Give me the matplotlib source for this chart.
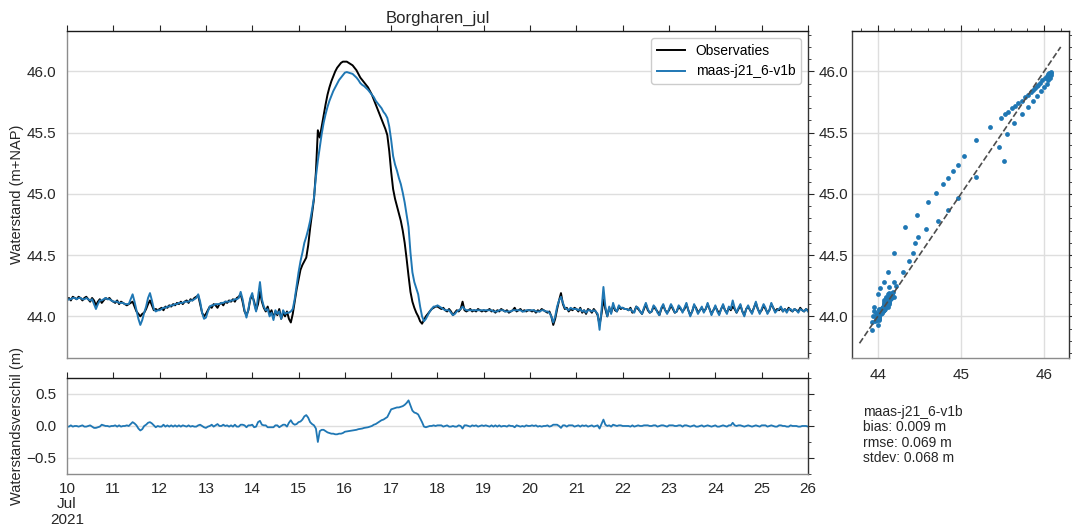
import matplotlib
matplotlib.use('Agg')
import matplotlib.pyplot as plt
import matplotlib.dates as mdates
from matplotlib.ticker import MultipleLocator, FuncFormatter
import numpy as np
import pandas as pd

# hourly water levels (m+NAP), Borgharen, 10-26 July 2021
obs_jul10 = [44.14, 44.15, 44.13, 44.16, 44.15, 44.14, 44.16, 44.15, 44.13, 44.15, 44.16, 44.14,
             44.12, 44.15, 44.13, 44.09, 44.12, 44.14, 44.11, 44.13, 44.15, 44.14, 44.15, 44.13]
obs_jul11 = [44.12, 44.11, 44.13, 44.10, 44.12, 44.11, 44.10, 44.09, 44.10, 44.11, 44.12, 44.08,
             44.04, 44.02, 44.00, 44.02, 44.03, 44.06, 44.10, 44.13, 44.09, 44.05, 44.06, 44.05]
obs_jul12 = [44.06, 44.07, 44.05, 44.08, 44.07, 44.09, 44.08, 44.10, 44.09, 44.11, 44.10, 44.12,
             44.10, 44.12, 44.13, 44.11, 44.14, 44.13, 44.15, 44.16, 44.17, 44.10, 44.03, 44.00]
obs_jul13 = [44.02, 44.05, 44.08, 44.07, 44.10, 44.09, 44.07, 44.10, 44.11, 44.09, 44.12, 44.11,
             44.13, 44.12, 44.14, 44.12, 44.15, 44.16, 44.18, 44.12, 44.04, 44.01, 44.05, 44.14]
obs_jul14 = [44.17, 44.12, 44.05, 44.10, 44.20, 44.12, 44.07, 44.04, 44.08, 44.02, 44.05, 43.99,
             44.04, 44.01, 44.06, 43.98, 44.03, 44.00, 44.04, 43.98, 43.95, 44.02, 44.12, 44.22]
obs_jul15 = [44.30, 44.38, 44.42, 44.45, 44.48, 44.58, 44.72, 44.84, 44.96, 45.18, 45.52, 45.46,
             45.55, 45.64, 45.73, 45.81, 45.87, 45.92, 45.96, 46.00, 46.03, 46.05, 46.07, 46.08]
obs_jul16 = [46.08, 46.08, 46.07, 46.06, 46.05, 46.03, 46.01, 45.98, 45.95, 45.93, 45.91, 45.89,
             45.87, 45.84, 45.81, 45.77, 45.73, 45.69, 45.65, 45.61, 45.57, 45.53, 45.48, 45.35]
obs_jul17 = [45.18, 45.04, 44.96, 44.90, 44.84, 44.78, 44.70, 44.60, 44.47, 44.33, 44.20, 44.12,
             44.07, 44.03, 44.00, 43.96, 43.94, 43.97, 44.00, 44.02, 44.04, 44.06, 44.07, 44.08]
obs_jul18 = [44.08, 44.07, 44.06, 44.07, 44.05, 44.04, 44.06, 44.04, 44.01, 44.03, 44.05, 44.04,
             44.06, 44.12, 44.05, 44.04, 44.05, 44.06, 44.04, 44.05, 44.04, 44.06, 44.05, 44.04]
obs_jul19 = [44.05, 44.04, 44.05, 44.06, 44.04, 44.05, 44.03, 44.05, 44.04, 44.06, 44.05, 44.04,
             44.05, 44.03, 44.04, 44.05, 44.07, 44.04, 44.05, 44.06, 44.04, 44.05, 44.04, 44.05]
obs_jul20 = [44.05, 44.04, 44.05, 44.03, 44.05, 44.04, 44.06, 44.05, 44.04, 44.03, 44.04, 44.00,
             43.93, 43.98, 44.06, 44.13, 44.19, 44.10, 44.06, 44.07, 44.04, 44.06, 44.05, 44.07]
obs_jul21 = [44.06, 44.04, 44.07, 44.03, 44.05, 44.02, 44.06, 44.05, 44.03, 44.06, 44.04, 44.01,
             43.93, 44.02, 44.14, 44.06, 44.00, 44.07, 44.03, 44.09, 44.05, 44.04, 44.08, 44.06]
obs_jul22 = [44.07, 44.06, 44.06, 44.05, 44.07, 44.03, 44.04, 44.08, 44.06, 44.04, 44.02, 44.06,
             44.10, 44.05, 44.03, 44.04, 44.08, 44.06, 44.04, 44.01, 44.06, 44.09, 44.05, 44.03]
obs_jul23 = [44.05, 44.09, 44.06, 44.03, 44.04, 44.08, 44.06, 44.04, 44.06, 44.10, 44.05, 44.01,
             44.04, 44.09, 44.07, 44.03, 44.05, 44.07, 44.04, 44.06, 44.10, 44.06, 44.02, 44.05]
obs_jul24 = [44.08, 44.05, 44.02, 44.06, 44.09, 44.05, 44.03, 44.07, 44.05, 44.08, 44.06, 44.03,
             44.06, 44.09, 44.04, 44.01, 44.06, 44.08, 44.05, 44.03, 44.07, 44.11, 44.06, 44.03]
obs_jul25 = [44.05, 44.09, 44.06, 44.03, 44.05, 44.10, 44.07, 44.04, 44.06, 44.05, 44.07, 44.04,
             44.06, 44.04, 44.07, 44.05, 44.04, 44.06, 44.05, 44.04, 44.07, 44.05, 44.04, 44.06]
obs_jul26 = [44.05]

mod_jul10 = [44.13, 44.14, 44.14, 44.15, 44.15, 44.14, 44.15, 44.15, 44.14, 44.14, 44.15, 44.14,
             44.13, 44.14, 44.10, 44.06, 44.10, 44.13, 44.13, 44.14, 44.15, 44.14, 44.14, 44.13]
mod_jul11 = [44.12, 44.12, 44.12, 44.11, 44.11, 44.11, 44.10, 44.10, 44.10, 44.14, 44.18, 44.12,
             44.05, 43.98, 43.93, 43.97, 44.03, 44.08, 44.15, 44.19, 44.13, 44.06, 44.04, 44.05]
mod_jul12 = [44.05, 44.06, 44.07, 44.07, 44.08, 44.08, 44.09, 44.09, 44.10, 44.10, 44.11, 44.11,
             44.11, 44.12, 44.12, 44.12, 44.13, 44.13, 44.14, 44.15, 44.18, 44.12, 44.03, 43.98]
mod_jul13 = [43.99, 44.04, 44.08, 44.09, 44.09, 44.10, 44.10, 44.10, 44.11, 44.11, 44.12, 44.12,
             44.12, 44.13, 44.13, 44.14, 44.14, 44.15, 44.20, 44.14, 44.05, 43.99, 44.06, 44.15]
mod_jul14 = [44.19, 44.10, 44.04, 44.16, 44.28, 44.14, 44.08, 44.05, 44.06, 44.00, 44.03, 43.97,
             44.05, 44.02, 44.04, 43.98, 44.05, 44.02, 44.03, 44.03, 44.04, 44.06, 44.14, 44.25]
mod_jul15 = [44.36, 44.45, 44.52, 44.60, 44.65, 44.71, 44.78, 44.87, 44.97, 45.14, 45.27, 45.38,
             45.49, 45.58, 45.65, 45.71, 45.76, 45.80, 45.84, 45.87, 45.90, 45.93, 45.95, 45.97]
mod_jul16 = [45.99, 45.995, 45.99, 45.985, 45.98, 45.965, 45.95, 45.93, 45.905, 45.89, 45.88, 45.865,
             45.85, 45.83, 45.81, 45.79, 45.76, 45.74, 45.72, 45.70, 45.67, 45.65, 45.62, 45.55]
mod_jul17 = [45.44, 45.31, 45.24, 45.19, 45.13, 45.08, 45.01, 44.93, 44.83, 44.73, 44.52, 44.36,
             44.28, 44.23, 44.18, 44.08, 44.00, 43.96, 43.98, 44.01, 44.04, 44.06, 44.08, 44.08]
mod_jul18 = [44.09, 44.08, 44.07, 44.06, 44.05, 44.05, 44.05, 44.03, 44.01, 44.02, 44.04, 44.05,
             44.06, 44.08, 44.06, 44.05, 44.05, 44.05, 44.05, 44.05, 44.05, 44.05, 44.05, 44.05]
mod_jul19 = [44.05, 44.05, 44.05, 44.05, 44.05, 44.04, 44.04, 44.04, 44.05, 44.05, 44.05, 44.04,
             44.04, 44.04, 44.04, 44.05, 44.05, 44.05, 44.05, 44.05, 44.04, 44.04, 44.05, 44.05]
mod_jul20 = [44.05, 44.05, 44.05, 44.04, 44.04, 44.04, 44.05, 44.05, 44.04, 44.04, 44.03, 44.00,
             43.95, 44.00, 44.08, 44.13, 44.16, 44.11, 44.07, 44.06, 44.05, 44.07, 44.06, 44.06]
mod_jul21 = [44.06, 44.05, 44.06, 44.04, 44.05, 44.03, 44.05, 44.05, 44.04, 44.05, 44.04, 44.02,
             43.89, 44.05, 44.24, 44.08, 44.00, 44.08, 44.02, 44.11, 44.06, 44.04, 44.09, 44.07]
mod_jul22 = [44.07, 44.06, 44.06, 44.05, 44.06, 44.04, 44.03, 44.08, 44.07, 44.04, 44.02, 44.07,
             44.11, 44.06, 44.03, 44.04, 44.09, 44.07, 44.03, 44.01, 44.07, 44.10, 44.05, 44.02]
mod_jul23 = [44.06, 44.10, 44.07, 44.03, 44.04, 44.09, 44.07, 44.03, 44.07, 44.11, 44.05, 44.00,
             44.04, 44.10, 44.06, 44.02, 44.05, 44.08, 44.03, 44.06, 44.11, 44.06, 44.01, 44.05]
mod_jul24 = [44.09, 44.04, 44.01, 44.06, 44.10, 44.05, 44.02, 44.08, 44.06, 44.13, 44.07, 44.03,
             44.07, 44.10, 44.04, 44.00, 44.06, 44.09, 44.05, 44.02, 44.07, 44.12, 44.06, 44.02]
mod_jul25 = [44.06, 44.10, 44.07, 44.02, 44.05, 44.11, 44.07, 44.03, 44.05, 44.06, 44.08, 44.04,
             44.06, 44.03, 44.06, 44.06, 44.04, 44.06, 44.05, 44.03, 44.06, 44.05, 44.04, 44.06]
mod_jul26 = [44.04]

station = 'Borgharen_jul'
run_name = 'maas-j21_6-v1b'
stats_lines = ['bias: 0.009 m', 'rmse: 0.069 m', 'stdev: 0.068 m']
one_to_one = [43.78, 46.2]

obs = np.concatenate([obs_jul10, obs_jul11, obs_jul12, obs_jul13, obs_jul14, obs_jul15,
                      obs_jul16, obs_jul17, obs_jul18, obs_jul19, obs_jul20, obs_jul21,
                      obs_jul22, obs_jul23, obs_jul24, obs_jul25, obs_jul26])
mod = np.concatenate([mod_jul10, mod_jul11, mod_jul12, mod_jul13, mod_jul14, mod_jul15,
                      mod_jul16, mod_jul17, mod_jul18, mod_jul19, mod_jul20, mod_jul21,
                      mod_jul22, mod_jul23, mod_jul24, mod_jul25, mod_jul26])
times = pd.date_range('2021-07-10', periods=len(obs), freq='h')
diff = mod - obs

plt.rcParams['font.family'] = ['Liberation Sans', 'DejaVu Sans']
plt.rcParams['font.size'] = 10
text_c = '0.15'
grid_c = '#dedede'
blue = '#1f77b4'

fig = plt.figure(figsize=(10.72, 5.26), dpi=100)
ax = fig.add_axes([0.0625, 0.3194, 0.6912, 0.6216])
axd = fig.add_axes([0.0625, 0.0989, 0.6912, 0.1825], sharex=ax)
axs = fig.add_axes([0.7948, 0.3194, 0.2024, 0.6216])

# time series
ax.plot(times, obs, color='k', lw=1.4, label='Observaties')
ax.plot(times, mod, color=blue, lw=1.4, label=run_name)
ax.set_xlim(times[0], times[-1])
ax.set_ylim(43.66, 46.33)
ax.set_title(station, fontsize=12, color=text_c, pad=6)
ax.set_ylabel('Waterstand (m+NAP)', color=text_c, fontsize=10.5, labelpad=2)
ax.yaxis.set_major_locator(MultipleLocator(0.5))
ax.yaxis.set_minor_locator(MultipleLocator(0.1))
ax.grid(axis='y', color=grid_c, lw=1)
ax.legend(loc='upper right', fontsize=10, edgecolor='0.8', framealpha=1)

# difference panel
axd.plot(times, diff, color=blue, lw=1.3)
axd.set_ylim(-0.75, 0.75)
axd.set_ylabel('Waterstandsverschil (m)', color=text_c, fontsize=10.5, labelpad=2)
axd.yaxis.set_major_locator(MultipleLocator(0.5))
axd.yaxis.set_minor_locator(MultipleLocator(0.25))
axd.grid(axis='y', color=grid_c, lw=1)

axd.xaxis.set_major_locator(mdates.DayLocator())
first_tick = mdates.date2num(times[0])


def day_label(x, pos):
    d = mdates.num2date(x)
    if abs(x - first_tick) < 1e-6:
        return d.strftime('%d\n%b\n%Y')
    return str(d.day)


axd.xaxis.set_major_formatter(FuncFormatter(day_label))

# scatter model vs observations
axs.scatter(obs, mod, s=12, color=blue, linewidths=0, zorder=3)
axs.plot(one_to_one, one_to_one, '--', color='0.3', lw=1.2, zorder=4)
axs.set_xlim(43.69, 46.30)
axs.set_ylim(43.66, 46.33)
axs.xaxis.set_major_locator(MultipleLocator(1))
axs.xaxis.set_minor_locator(MultipleLocator(0.2))
axs.yaxis.set_major_locator(MultipleLocator(0.5))
axs.yaxis.set_minor_locator(MultipleLocator(0.1))
axs.grid(color=grid_c, lw=1)

for a in (ax, axd, axs):
    a.set_axisbelow(True)
    a.tick_params(which='both', colors=text_c, labelsize=11)
    a.tick_params(which='both', left=False, bottom=False, top=True, right=True, direction='out')
    a.tick_params(which='major', length=4, width=0.8)
    a.tick_params(which='minor', length=2, width=0.6)
    a.spines['left'].set_color('0.55')
    a.spines['bottom'].set_color('0.55')
    a.spines['top'].set_color('0.1')
    a.spines['right'].set_color('0.2')
    for s in a.spines.values():
        s.set_linewidth(1.0)

ax.tick_params(axis='x', labelbottom=False)
ax.tick_params(axis='y', labelleft=True, labelright=True)
axd.tick_params(axis='y', labelright=False)
axd.tick_params(axis='x', pad=2)
axs.tick_params(axis='y', labelleft=False, labelright=False)
axs.spines['left'].set_color('0.25')

fig.text(0.805, 0.23, '\n'.join([run_name] + stats_lines), va='top', ha='left',
         fontsize=10, color=text_c, linespacing=1.12)

# tighter line spacing for the three-line first date label
fig.canvas.draw()
for lbl in axd.get_xticklabels():
    lbl.set_linespacing(1.1)

fig.savefig('out.png', dpi=100)
